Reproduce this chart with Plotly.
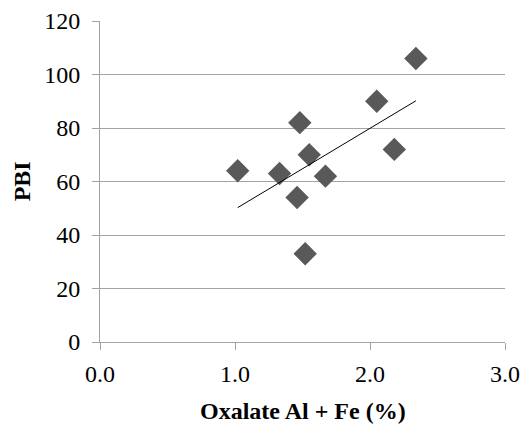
import numpy as np
import plotly.graph_objects as go

# Oxalate-extractable Al + Fe (%) and phosphorus buffering index
oxalate_al_fe = [1.02, 1.33, 1.46, 1.48, 1.52, 1.55, 1.67, 2.05, 2.18, 2.34]
pbi = [64, 63, 54, 82, 33, 70, 62, 90, 72, 106]

x_ticks = [0.0, 1.0, 2.0, 3.0]
x_tick_labels = ["0.0", "1.0", "2.0", "3.0"]
y_ticks = [0, 20, 40, 60, 80, 100, 120]

# Least-squares linear trend over the observed range
slope, intercept = np.polyfit(oxalate_al_fe, pbi, 1)
trend_x = [min(oxalate_al_fe), max(oxalate_al_fe)]
trend_y = [slope * v + intercept for v in trend_x]

serif = "Liberation Serif, Times New Roman, serif"
grey = "#a3a3a3"

fig = go.Figure()
fig.add_trace(go.Scatter(
    x=oxalate_al_fe, y=pbi, mode="markers",
    marker=dict(symbol="diamond", size=18, color="#595959", line=dict(width=0)),
    showlegend=False,
))
fig.add_trace(go.Scatter(
    x=trend_x, y=trend_y, mode="lines",
    line=dict(color="#000000", width=1),
    showlegend=False,
))

fig.update_layout(
    width=522, height=424,
    margin=dict(l=100, r=17, t=21, b=82, autoexpand=False),
    showlegend=False,
    paper_bgcolor="white", plot_bgcolor="white",
    font=dict(family=serif, size=24, color="#000000"),
    xaxis=dict(
        range=[0, 3], tickvals=x_ticks, ticktext=x_tick_labels,
        showgrid=False, zeroline=False, automargin=False,
        showline=True, linecolor=grey, linewidth=1,
        ticks="outside", ticklen=7, tickcolor=grey, ticklabelstandoff=3,
    ),
    yaxis=dict(
        range=[0, 120], tickvals=y_ticks, automargin=False,
        showgrid=True, gridcolor=grey, gridwidth=1, zeroline=False,
        showline=True, linecolor=grey, linewidth=1,
        ticks="outside", ticklen=7, tickcolor=grey, ticklabelstandoff=7,
    ),
    annotations=[
        dict(text="<b>Oxalate Al + Fe (%)</b>", xref="paper", yref="paper",
             x=0.5, y=-0.2135, xanchor="center", yanchor="middle",
             showarrow=False, font=dict(size=24)),
        dict(text="<b>PBI</b>", xref="paper", yref="paper",
             x=-0.193, y=0.5, xanchor="center", yanchor="middle",
             textangle=-90, showarrow=False, font=dict(size=24)),
    ],
)

fig.write_html("out.html")
